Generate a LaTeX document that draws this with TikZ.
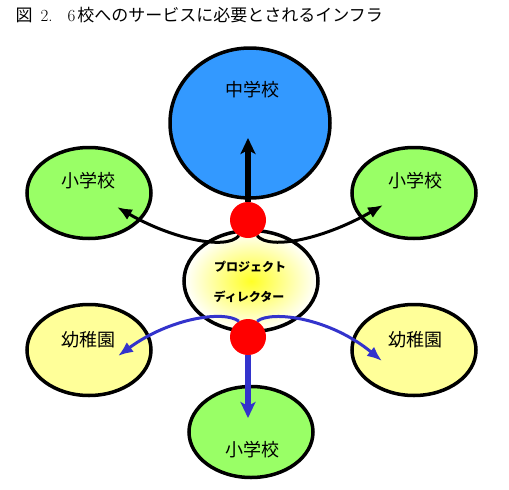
\documentclass[tikz,border=0pt]{standalone}
\usepackage{fontspec}
\newfontfamily\jp{Noto Sans CJK JP}
\usetikzlibrary{shapes.geometric,arrows.meta}

\definecolor{msblue}{HTML}{3399FF}
\definecolor{esgreen}{HTML}{99FF66}
\definecolor{kgyellow}{HTML}{FFFF99}
\definecolor{linkblue}{HTML}{3333CC}

\begin{document}
\begin{tikzpicture}[x=1pt,y=-1pt,
		school/.style={ellipse,draw,line width=3.5pt,inner sep=0pt,minimum width=124pt,minimum height=91pt},
		lbl/.style={font=\jp\fontsize{18pt}{20pt}\selectfont},
		hub/.style={circle,fill=red,inner sep=0pt,minimum size=36pt},
		link/.style={line width=3pt,-{Latex[length=15pt,width=12pt]}}]
	\useasboundingbox (0,0) rectangle (509,490);

	\node[anchor=base west,font=\fontsize{17pt}{20pt}\selectfont] (title) at (12,21)
		{{\jp 図}\hspace{8pt}2.\hspace{15pt}6\hspace{2pt}{\jp 校へのサービスに必要とされるインフラ}};

	\node[school,fill=msblue,minimum width=160pt,minimum height=150pt] (ms) at (250,123) {};
	\node[school,fill=esgreen] (ls) at (89,193) {};
	\node[school,fill=esgreen] (rs) at (414,193) {};
	\node[school,fill=kgyellow] (lk) at (89,350) {};
	\node[school,fill=kgyellow] (rk) at (414,350) {};
	\node[school,fill=esgreen] (bs) at (251,432) {};
	\node[ellipse,draw,line width=3.5pt,inner sep=0pt,minimum width=134pt,minimum height=101pt,
		inner color=yellow!85,outer color=white] (pd) at (251,281) {};

	\node[lbl] (msT) at (252,90) {中学校};
	\node[lbl] (lsT) at (88,181) {小学校};
	\node[lbl] (rsT) at (415,181) {小学校};
	\node[lbl] (lkT) at (88,340) {幼稚園};
	\node[lbl] (rkT) at (415,340) {幼稚園};
	\node[lbl] (bsT) at (252,450) {小学校};
	\node[font=\jp\bfseries\fontsize{12pt}{14pt}\selectfont] (pd1) at (250,267) {プロジェクト};
	\node[font=\jp\bfseries\fontsize{12pt}{14pt}\selectfont] (pd2) at (249,297) {ディレクター};

	\node[hub] (rt) at (248,220) {};
	\node[hub] (rb) at (248,337) {};

	\coordinate (msTip) at (248,138);
	\coordinate (lsTip) at (117,207);
	\coordinate (rsTip) at (383,205);
	\coordinate (lkTip) at (118,356);
	\coordinate (rkTip) at (382,361);
	\coordinate (bsTip) at (248,418);

	\draw[line width=5.5pt,-{Stealth[length=16pt,width=15pt,inset=4pt]}] (rt.north) -- (msTip);
	\draw[link] (rt.240) .. controls (226,251) and (170,238) .. (lsTip);
	\draw[link] (rt.300) .. controls (270,251) and (326,238) .. (rsTip);

	\draw[link,linkblue] (rb.120) .. controls (224,310) and (170,318) .. (lkTip);
	\draw[link,linkblue] (rb.60) .. controls (272,310) and (330,318) .. (rkTip);
	\draw[line width=5.5pt,linkblue,-{Stealth[length=16pt,width=15pt,inset=4pt]}] (rb.south) -- (bsTip);
\end{tikzpicture}
\end{document}
